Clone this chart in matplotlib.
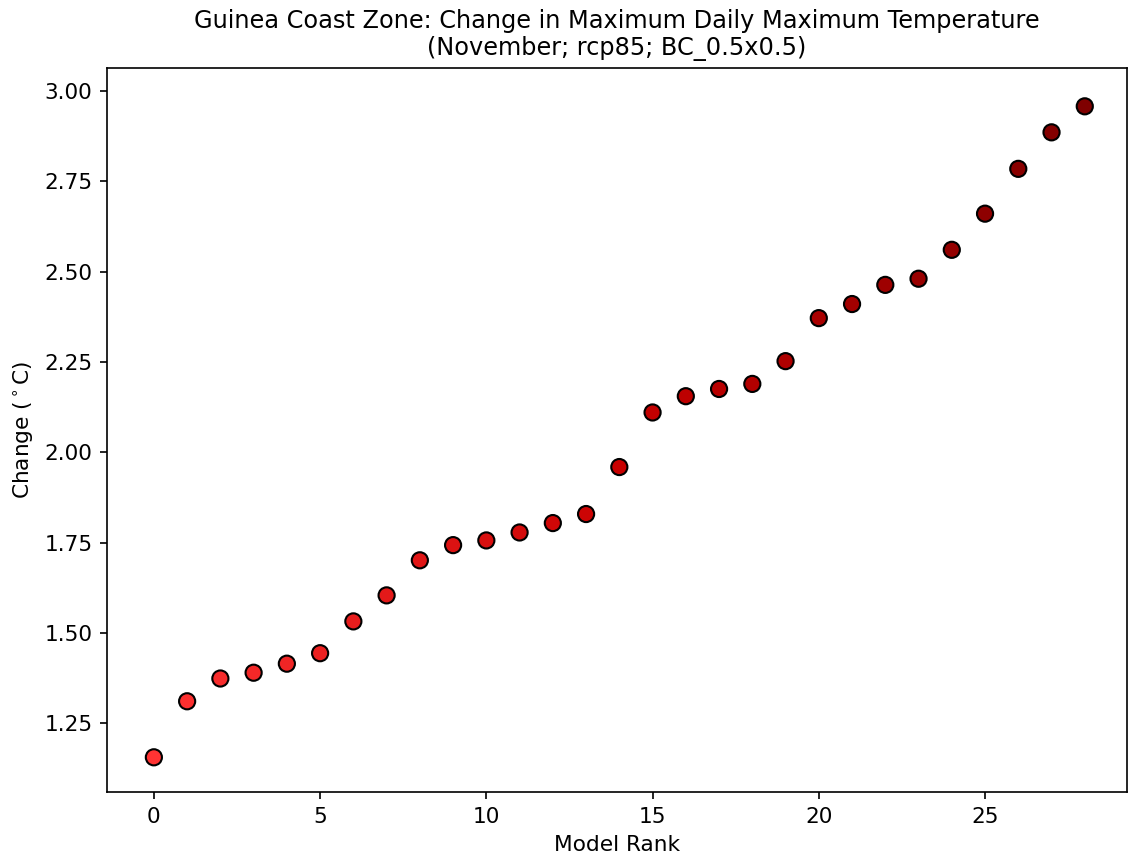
import numpy as np
import matplotlib
matplotlib.use('Agg')
import matplotlib.pyplot as plt
from matplotlib.colors import LinearSegmentedColormap

# Valors llegits del gràfic
rank = list(range(29))
change = [1.156, 1.311, 1.374, 1.390, 1.415, 1.444, 1.532, 1.604, 1.701,
          1.743, 1.756, 1.778, 1.804, 1.829, 1.959, 2.110, 2.155, 2.175,
          2.189, 2.252, 2.371, 2.410, 2.463, 2.480, 2.560, 2.660, 2.784,
          2.885, 2.957]

cmap = LinearSegmentedColormap.from_list('vermells', ['#ff3333', '#c80000', '#7f0000'])
colors = cmap(np.linspace(0, 1, len(rank)))

fig = plt.figure(figsize=(1128 / 150, 859 / 150), dpi=150)
ax = fig.add_axes([107 / 1128, 1 - 792 / 859, (1127 - 107) / 1128, (792 - 68) / 859])
ax.scatter(rank, change, c=colors, s=60, edgecolors='black', linewidths=1.0, zorder=3)
ax.set_title('Guinea Coast Zone: Change in Maximum Daily Maximum Temperature\n'
             '(November; rcp85; BC_0.5x0.5)', fontsize=11.5)
ax.set_xlabel('Model Rank', fontsize=10.4)
ax.set_ylabel(r'Change ($^\circ$C)', fontsize=10.4)
ax.set_yticks([1.25, 1.50, 1.75, 2.00, 2.25, 2.50, 2.75, 3.00])
ax.set_yticklabels(['1.25', '1.50', '1.75', '2.00', '2.25', '2.50', '2.75', '3.00'])
ax.set_xticks([0, 5, 10, 15, 20, 25])
ax.tick_params(labelsize=10.4)
ax.set_xlim(-1.41, 29.27)
ax.set_ylim(1.06, 3.063)

fig.savefig('out.png', dpi=150)
